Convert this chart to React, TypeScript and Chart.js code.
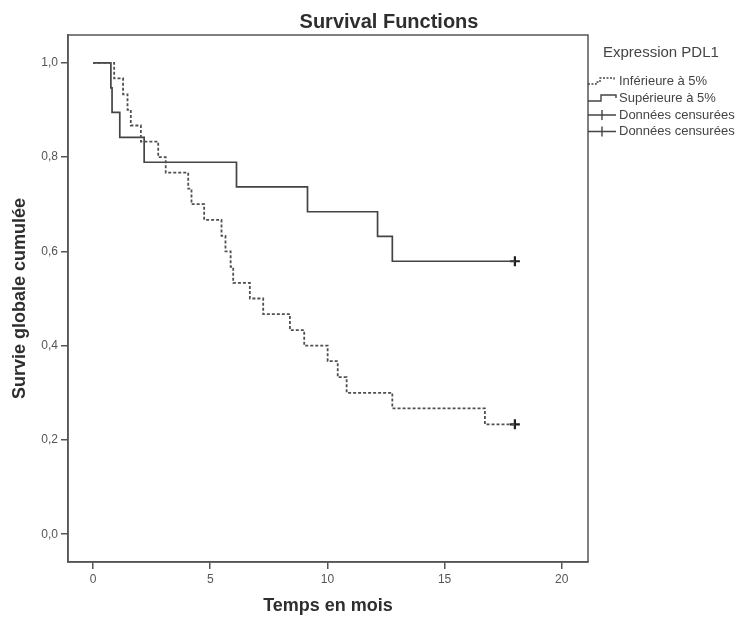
import React, { useEffect, useRef } from "react";
import { Chart, registerables } from "chart.js";

Chart.register(...registerables);

// Kaplan-Meier data
const infTimes = [0, 0.9, 1.28, 1.47, 1.61, 2.04, 2.78, 3.1, 4.06, 4.2, 4.74, 5.48, 5.65, 5.87, 5.98, 6.69, 7.26, 8.4, 9.01, 10.01, 10.44, 10.82, 12.77, 16.72, 18.0];
const infSurv = [1, 0.967, 0.933, 0.9, 0.867, 0.833, 0.8, 0.767, 0.733, 0.7, 0.667, 0.633, 0.6, 0.567, 0.533, 0.5, 0.467, 0.433, 0.4, 0.367, 0.333, 0.3, 0.267, 0.233, 0.233];
const supTimes = [0, 0.76, 0.81, 1.14, 2.18, 6.12, 9.15, 12.14, 12.77, 18.0];
const supSurv = [1, 0.947, 0.895, 0.842, 0.789, 0.737, 0.684, 0.632, 0.579, 0.579];
const censorInfTimes = [18.0];
const censorInfSurv = [0.233];
const censorSupTimes = [18.0];
const censorSupSurv = [0.579];

const xTicks = [0, 5, 10, 15, 20];
const yTicks = [0, 0.2, 0.4, 0.6, 0.8, 1.0];

const chartTitle = "Survival Functions";
const xTitle = "Temps en mois";
const yTitle = "Survie globale cumulée";
const legendTitle = "Expression PDL1";
const legendLabels = ["Inférieure à 5%", "Supérieure à 5%", "Données censurées", "Données censurées"];

const FONT = "'Liberation Sans', Arial, sans-serif";
const LINE = "#444";

const toXY = (xs: number[], ys: number[]) => xs.map((x, i) => ({ x, y: ys[i] }));

export default function App() {
  const ref = useRef<HTMLCanvasElement | null>(null);

  useEffect(() => {
    document.body.style.margin = "0";
    const canvas = ref.current;
    if (!canvas) return;

    const decor = {
      id: "decor",
      afterDraw(chart: any) {
        const ctx = chart.ctx;
        const a = chart.chartArea;
        ctx.save();
        // frame
        ctx.strokeStyle = "#555";
        ctx.lineWidth = 1.5;
        ctx.strokeRect(a.left, a.top, a.right - a.left, a.bottom - a.top);

        ctx.fillStyle = "#2e2e2e";
        ctx.textAlign = "center";
        ctx.textBaseline = "middle";
        ctx.font = `bold 20px ${FONT}`;
        ctx.fillText(chartTitle, 389, 22);
        ctx.font = `bold 18px ${FONT}`;
        ctx.fillText(xTitle, (a.left + a.right) / 2, 606);
        ctx.save();
        ctx.translate(20, (a.top + a.bottom) / 2);
        ctx.rotate(-Math.PI / 2);
        ctx.fillText(yTitle, 0, 0);
        ctx.restore();

        // legend
        ctx.textAlign = "left";
        ctx.fillStyle = "#444";
        ctx.font = `15px ${FONT}`;
        ctx.fillText(legendTitle, 603, 53);
        ctx.font = `13px ${FONT}`;
        const ys = [81, 98, 115, 131.5];
        legendLabels.forEach((t, i) => ctx.fillText(t, 619, ys[i]));

        ctx.strokeStyle = LINE;
        ctx.lineWidth = 1.4;
        // dashed step icon
        ctx.setLineDash([2, 1.5]);
        ctx.beginPath();
        let c = ys[0];
        ctx.moveTo(588, c + 3);
        ctx.lineTo(596, c + 3);
        ctx.lineTo(596, c + 1);
        ctx.lineTo(600, c + 1);
        ctx.lineTo(600, c - 3);
        ctx.lineTo(614, c - 3);
        ctx.lineTo(614, c);
        ctx.stroke();
        ctx.setLineDash([]);
        // solid step icon
        c = ys[1];
        ctx.beginPath();
        ctx.moveTo(588, c + 3);
        ctx.lineTo(601, c + 3);
        ctx.lineTo(601, c - 3);
        ctx.lineTo(616, c - 3);
        ctx.lineTo(616, c);
        ctx.stroke();
        // censored icons
        [ys[2], ys[3]].forEach((cy) => {
          ctx.beginPath();
          ctx.moveTo(588, cy);
          ctx.lineTo(616, cy);
          ctx.moveTo(602, cy - 5);
          ctx.lineTo(602, cy + 5);
          ctx.stroke();
        });
        ctx.restore();
      },
    };

    const chart = new Chart(canvas, {
      type: "scatter",
      data: {
        datasets: [
          {
            label: legendLabels[0],
            data: toXY(infTimes, infSurv),
            showLine: true,
            stepped: "before",
            borderColor: "#505050",
            borderWidth: 1.8,
            borderDash: [3, 2],
            pointRadius: 0,
          },
          {
            label: legendLabels[1],
            data: toXY(supTimes, supSurv),
            showLine: true,
            stepped: "before",
            borderColor: LINE,
            borderWidth: 1.7,
            pointRadius: 0,
          },
          {
            label: legendLabels[2],
            data: toXY(censorInfTimes, censorInfSurv),
            showLine: false,
            pointStyle: "cross",
            pointRadius: 5,
            borderWidth: 2.2,
            borderColor: "#1e1e1e",
          },
          {
            label: legendLabels[3],
            data: toXY(censorSupTimes, censorSupSurv),
            showLine: false,
            pointStyle: "cross",
            pointRadius: 5,
            borderWidth: 2.2,
            borderColor: "#1e1e1e",
          },
        ],
      },
      options: {
        responsive: false,
        animation: false,
        events: [],
        layout: { padding: { top: 35, right: 156, left: 0, bottom: 0 } },
        plugins: { legend: { display: false }, title: { display: false }, tooltip: { enabled: false } },
        scales: {
          x: {
            type: "linear",
            min: -1.07,
            max: 21.12,
            afterBuildTicks: (s: any) => {
              s.ticks = xTicks.map((v) => ({ value: v }));
            },
            afterFit: (s: any) => {
              s.height = 56;
            },
            grid: { display: true, drawOnChartArea: false, drawTicks: true, tickLength: 7, color: "#555", lineWidth: 1.5 },
            border: { display: true, color: "#555", width: 1.5 },
            ticks: { color: "#555", font: { family: FONT, size: 12 }, padding: 3, maxRotation: 0, autoSkip: false },
          },
          y: {
            type: "linear",
            min: -0.059,
            max: 1.059,
            afterBuildTicks: (s: any) => {
              s.ticks = yTicks.map((v) => ({ value: v }));
            },
            afterFit: (s: any) => {
              s.width = 68;
            },
            grid: { display: true, drawOnChartArea: false, drawTicks: true, tickLength: 7, color: "#555", lineWidth: 1.5 },
            border: { display: true, color: "#555", width: 1.5 },
            ticks: {
              color: "#555",
              font: { family: FONT, size: 12 },
              padding: 3,
              autoSkip: false,
              callback: (v: any) => Number(v).toFixed(1).replace(".", ","),
            },
          },
        },
      },
      plugins: [decor],
    });

    return () => chart.destroy();
  }, []);

  return (
    <div style={{ width: 744, height: 618, background: "#fff" }}>
      <canvas ref={ref} width={744} height={618} style={{ width: 744, height: 618 }} />
    </div>
  );
}
